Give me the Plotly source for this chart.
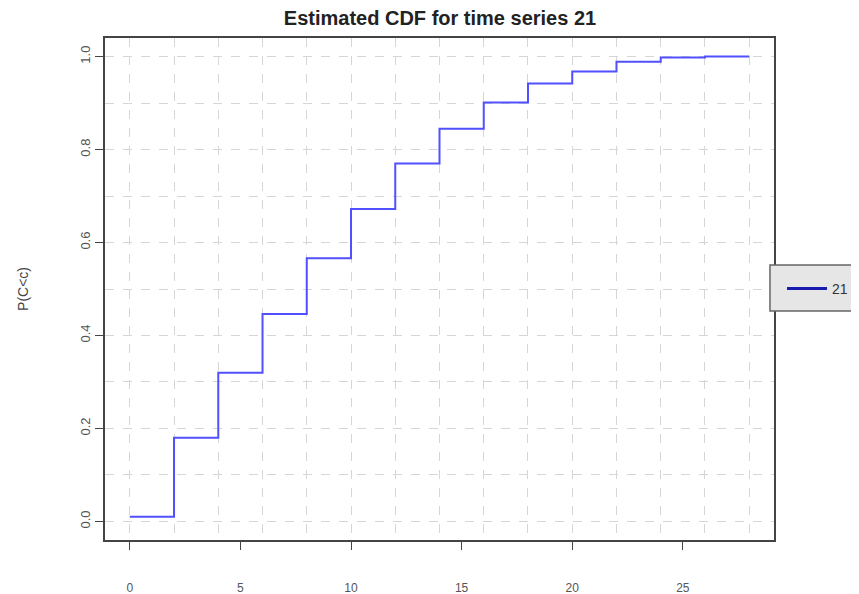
import plotly.graph_objects as go

# ---- data ----
x_vals = [0, 2, 4, 6, 8, 10, 12, 14, 16, 18, 20, 22, 24, 26, 28]
cdf_vals = [0.01, 0.18, 0.32, 0.446, 0.566, 0.672, 0.77, 0.845, 0.901, 0.942, 0.968, 0.989, 0.998, 1.0, 1.0]
x_ticks = [0, 5, 10, 15, 20, 25]
y_ticks = [0.0, 0.2, 0.4, 0.6, 0.8, 1.0]
y_tick_labels = ["0.0", "0.2", "0.4", "0.6", "0.8", "1.0"]
series_name = "21"
title_text = "Estimated CDF for time series 21"
y_title = "P(C&lt;c)"

x_range = [-1.12, 29.12]
y_range = [-0.04, 1.04]

font_family = "Liberation Sans, Arial, sans-serif"
grid_color = "#d6d6d6"

fig = go.Figure()
fig.add_trace(go.Scatter(
    x=x_vals, y=cdf_vals, mode="lines", line=dict(shape="hv", color="#5050ff", width=2),
    showlegend=False, hoverinfo="x+y"))
# legend entry (drawn on the grid overlay axes)
fig.add_trace(go.Scatter(
    x=[None], y=[None], mode="lines", line=dict(color="#1a1ab0", width=3),
    name=series_name, xaxis="x2", yaxis="y2"))

axis_common = dict(showgrid=False, zeroline=False, showline=True, mirror=True,
                   linecolor="#444444", linewidth=2, ticks="outside", ticklen=8,
                   tickcolor="#444444", tickwidth=1, automargin=False)

fig.update_layout(
    width=851, height=586,
    margin=dict(l=97, r=85, t=30, b=54, autoexpand=False),
    paper_bgcolor="white", plot_bgcolor="white",
    font=dict(family=font_family, color="#333333"),
    title=dict(text="<b>" + title_text + "</b>", x=432 / 851, xanchor="center",
               y=1 - 10 / 586, yanchor="middle", yref="container",
               font=dict(family=font_family, size=20, color="#222222")),
    xaxis=dict(range=x_range, tickvals=x_ticks, ticktext=[str(v) for v in x_ticks],
               ticklabelstandoff=28,
               tickfont=dict(family=font_family, size=12, color="#555555"),
               **axis_common),
    yaxis=dict(range=y_range, tickvals=y_ticks, ticktext=y_tick_labels, tickangle=-90,
               ticklabelstandoff=0,
               tickfont=dict(family=font_family, size=13, color="#555555"),
               title=dict(text=y_title, standoff=46,
                          font=dict(family=font_family, size=14, color="#444444")),
               **axis_common),
    xaxis2=dict(range=x_range, overlaying="x", side="bottom", showticklabels=False,
                ticks="", showgrid=True, dtick=2, tick0=0, gridcolor=grid_color,
                griddash="dash", gridwidth=1, zeroline=False, showline=False),
    yaxis2=dict(range=y_range, overlaying="y", side="left", showticklabels=False,
                ticks="", showgrid=True, dtick=0.1, tick0=0, gridcolor=grid_color,
                griddash="dash", gridwidth=1, zeroline=False, showline=False),
    shapes=[dict(type="rect", xref="paper", yref="paper", x0=0.994, x1=1.16,
                 y0=0.456, y1=0.548, fillcolor="#e6e6e6",
                 line=dict(color="#666666", width=1.5), layer="above")],
    legend=dict(x=1.012, xanchor="left", y=0.5, yanchor="middle",
                bgcolor="rgba(0,0,0,0)", borderwidth=0,
                itemwidth=40, font=dict(family=font_family, size=14, color="#333333")),
)

fig.write_html("out.html")
